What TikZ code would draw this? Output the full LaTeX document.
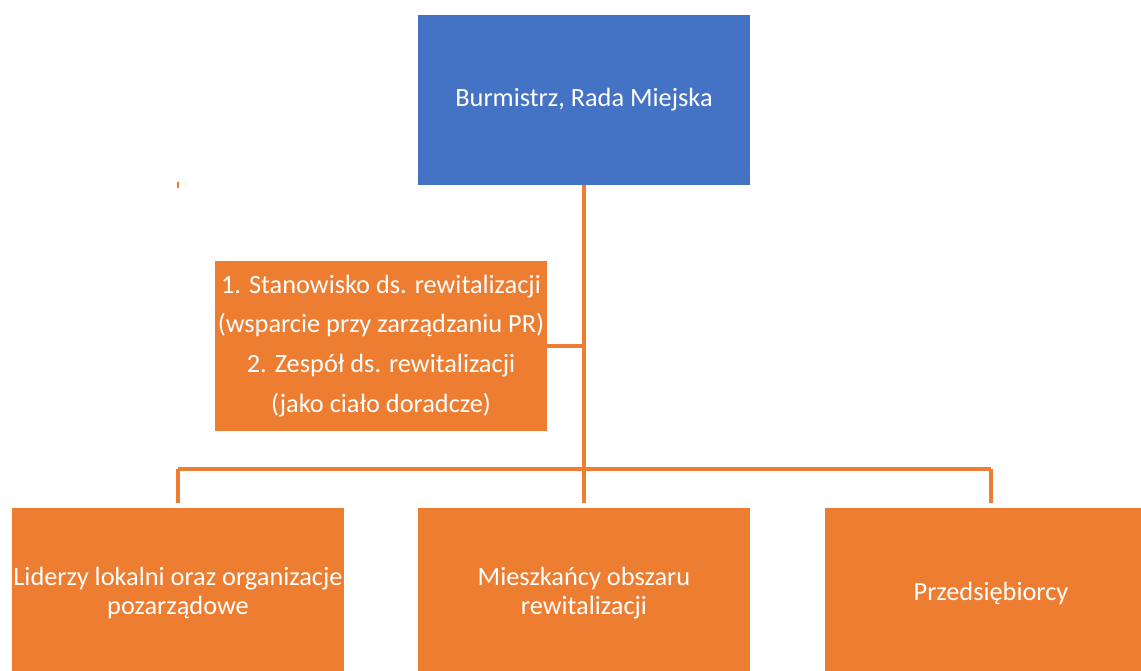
\documentclass[tikz,border=0pt]{standalone}
\usepackage{fontspec}
\setmainfont{Carlito}
\definecolor{radablue}{HTML}{4472C4}
\definecolor{grupaorange}{HTML}{ED7D31}

\begin{document}
\begin{tikzpicture}[x=0.02cm, y=-0.02cm,
    box/.style={minimum width=6.64cm, minimum height=3.4cm, inner sep=0pt,
      text=white, align=center, font=\fontsize{15}{16.6}\selectfont},
    link/.style={draw=grupaorange, line width=1.9pt}]
  \useasboundingbox (0,0) rectangle (1141,671);

  \node[box, fill=radablue] (rada) at (584,100) {Burmistrz, Rada Miejska};
  \node[box, fill=grupaorange, font=\fontsize{15}{22.7}\selectfont] (zespol) at (381,346)
    {1. Stanowisko ds. rewitalizacji\\(wsparcie przy zarządzaniu PR)\\2. Zespół ds. rewitalizacji\\(jako ciało doradcze)};
  \node[box, fill=grupaorange] (liderzy) at (178,593) {Liderzy lokalni oraz organizacje\\pozarządowe};
  \node[box, fill=grupaorange] (mieszk) at (584,593) {Mieszkańcy obszaru\\rewitalizacji};
  \node[box, fill=grupaorange] (przeds) at (991,593) {Przedsiębiorcy};

  \coordinate (rozgal) at (584,469);

  \draw[link, shorten >=0.1cm] (rada.south) -- (mieszk.north);
  \draw[link] (zespol.east) -- (zespol.east -| rada.south);
  \draw[link, shorten >=0.1cm] (liderzy.north |- rozgal) -- (liderzy.north);
  \draw[link, shorten >=0.1cm] (przeds.north |- rozgal) -- (przeds.north);
  \draw[link] (liderzy.north |- rozgal) -- (przeds.north |- rozgal);
  \draw[link, line width=1pt] (178,182) -- (178,188);
\end{tikzpicture}
\end{document}
